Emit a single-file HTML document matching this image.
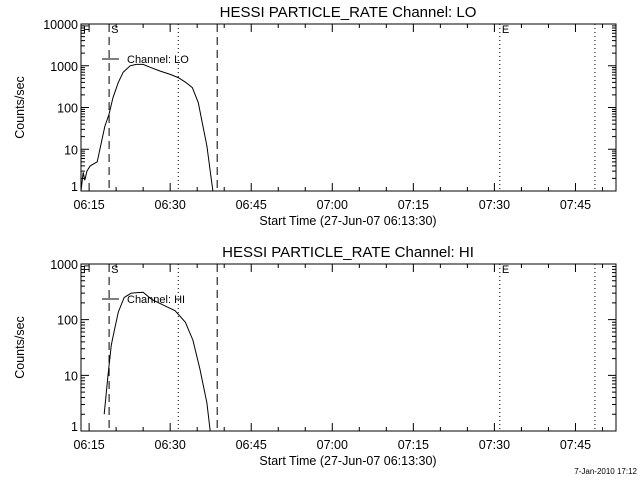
<!DOCTYPE html>
<html><head><meta charset="utf-8"><style>
html,body{margin:0;padding:0;background:#fff;}
svg{display:block;}
text{font-family:"Liberation Sans",sans-serif;fill:#000;}
</style></head><body>
<svg id="chart" width="640" height="480" viewBox="0 0 640 480" xmlns="http://www.w3.org/2000/svg">
<rect width="640" height="480" fill="#fff"/>
<text x="637" y="474" font-size="8" text-anchor="end">7-Jan-2010 17:12</text>
</svg>
<script>
// minutes after 06:13:30
const loTimes = [0,0.4,0.7,1.1,1.7,3.0,3.5,4.4,5.2,5.9,6.9,7.8,9.1,10.2,11.5,12.8,14.6,16.5,18.0,19.4,20.6,21.7,22.4,23.3,23.9,24.4];
const loValues = [1,2.8,1.8,3,4,5,10,35,70,170,400,700,1000,1080,1080,920,750,620,520,400,300,130,45,12,3,1];
const hiTimes = [4.3,5.0,5.6,6.3,6.9,8.0,9.3,11.5,13.1,15.6,17.4,19.3,20.7,22.0,23.3,23.9];
const hiValues = [2,10,35,73,137,250,300,310,230,175,145,90,43,13,3.2,1];
const xTickLabels = ["06:15","06:30","06:45","07:00","07:15","07:30","07:45"];
const xTickMinutes = [1.5,16.5,31.5,46.5,61.5,76.5,91.5];
const dashedMarks = [5.2,25.2];
const dottedMarks = [18.0,77.5,95.1];
const loYLabels = ["1","10","100","1000","10000"];
const hiYLabels = ["1","10","100","1000"];

const svg = document.getElementById('chart');
const NS = 'http://www.w3.org/2000/svg';
const X0 = 81, X1 = 616, TMAX = 99;
function xs(t){ return X0 + (X1 - X0) * t / TMAX; }
function mk(tag, attrs, parent){
  const e = document.createElementNS(NS, tag);
  for (const k in attrs) e.setAttribute(k, attrs[k]);
  (parent || svg).appendChild(e);
  return e;
}

function panel(cfg){
  const g = mk('g', {});
  
  
  const top = cfg.top, bot = cfg.bot, dec = cfg.yLabels.length - 1;
  function ys(v){ return bot - (bot - top) * Math.log10(v) / dec; }
  const title = mk('text', {x: 348, y: top - 7, 'font-size': 15, 'text-anchor': 'middle'}, g);
  title.textContent = cfg.title;
  
  
  const frame = mk('rect', {x: X0, y: top, width: X1 - X0, height: bot - top, fill: 'none', stroke: '#000', 'stroke-width': 1}, g);
  
  
  for (let m = 1.5; m <= TMAX; m += 5) {
    const major = Math.abs(((m - 1.5) % 15)) < 0.01;
    const L = major ? 8 : 4;
    const x = xs(m);
    const tk = mk('path', {d: `M${x},${bot}v${-L}M${x},${top}v${L}`, stroke: '#000', 'stroke-width': 1}, g);
    
    
  }
  xTickLabels.forEach((lab, i) => {
    const t = mk('text', {x: xs(xTickMinutes[i]), y: bot + 18, 'font-size': 12.5, 'text-anchor': 'middle'}, g);
    t.textContent = lab;
    
    
  });
  const xt = mk('text', {x: 348, y: bot + 34, 'font-size': 12.5, 'text-anchor': 'middle'}, g);
  xt.textContent = 'Start Time (27-Jun-07 06:13:30)';
  
  
  for (let d = 0; d < dec; d++) {
    for (let k = 1; k <= 9; k++) {
      const v = Math.pow(10, d) * k, y = ys(v);
      const L = k === 1 ? 8 : 4;
      const tk = mk('path', {d: `M${X0},${y}h${L}M${X1},${y}h${-L}`, stroke: '#000', 'stroke-width': 1}, g);
      
      
    }
  }
  cfg.yLabels.forEach((lab, i) => {
    const t = mk('text', {x: X0 - 3, y: ys(Math.pow(10, i)) + (i === 0 ? 0 : 5), 'font-size': 12.5, 'text-anchor': 'end'}, g);
    t.textContent = lab;
    
    
  });
  const yt = mk('text', {x: 0, y: 0, 'font-size': 12.5, 'text-anchor': 'middle', transform: `translate(24,${(top + bot) / 2}) rotate(-90)`}, g);
  yt.textContent = 'Counts/sec';
  
  
  dashedMarks.forEach(m => {
    const l = mk('line', {x1: xs(m), x2: xs(m), y1: top, y2: bot, stroke: '#000', 'stroke-dasharray': '8,5'}, g);
    
    
  });
  dottedMarks.forEach(m => {
    const l = mk('line', {x1: xs(m), x2: xs(m), y1: top, y2: bot, stroke: '#000', 'stroke-dasharray': '1,3'}, g);
    
    
  });
  const s = mk('text', {x: xs(dashedMarks[0]) + 2, y: top + 9, 'font-size': 11}, g);
  s.textContent = 'S';
  
  
  const e = mk('text', {x: xs(dottedMarks[1]) + 2, y: top + 9, 'font-size': 11}, g);
  e.textContent = 'E';
  
  
  const f = mk('text', {x: X0 + 2, y: top + 9, 'font-size': 11}, g);
  f.textContent = 'F';
  
  
  const pts = cfg.times.map((t, i) => `${xs(t).toFixed(1)},${ys(cfg.values[i]).toFixed(1)}`).join(' ');
  const pl = mk('polyline', {points: pts, fill: 'none', stroke: '#000', 'stroke-width': 1}, g);
  
  
  const ly = top + 35;
  const ll = mk('line', {x1: 102, x2: 119, y1: ly, y2: ly, stroke: '#000'}, g);
  
  
  const lt = mk('text', {x: 127, y: ly + 4, 'font-size': 11}, g);
  lt.textContent = cfg.legend;
  
  
}

panel({name: 'lo', top: 24, bot: 191, yLabels: loYLabels, times: loTimes, values: loValues,
  title: 'HESSI PARTICLE_RATE Channel: LO', legend: 'Channel: LO'});
panel({name: 'hi', top: 264, bot: 431, yLabels: hiYLabels, times: hiTimes, values: hiValues,
  title: 'HESSI PARTICLE_RATE Channel: HI', legend: 'Channel: HI'});
</script>
</body></html>
